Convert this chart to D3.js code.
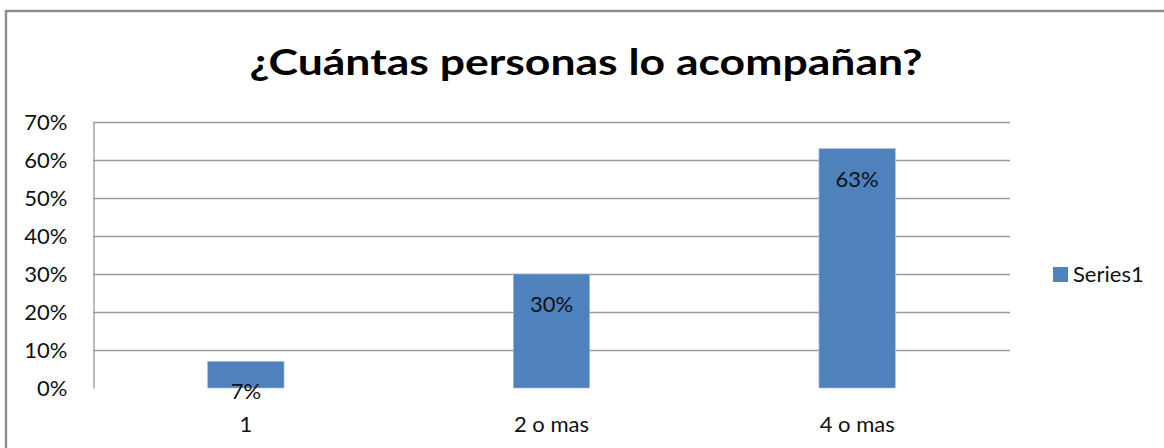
<!DOCTYPE html>
<html>
<head>
<meta charset="utf-8">
<script src="https://cdn.jsdelivr.net/npm/d3@7"></script>
<style>
  html, body { margin: 0; padding: 0; background: #fff; }
  svg { display: block; font-family: Lato, "Open Sans", sans-serif; }
</style>
</head>
<body>
<svg id="chart" width="1164" height="448"></svg>
<script>
// Chart data
const title = "¿Cuántas personas lo acompañan?";
const categories = ["1", "2 o mas", "4 o mas"];
const values = [0.07, 0.30, 0.63];
const seriesName = "Series1";
const yTicks = [0, 0.1, 0.2, 0.3, 0.4, 0.5, 0.6, 0.7];

const svg = d3.select("#chart");
const W = 1164, H = 448;
const plot = { left: 93, top: 122, right: 1010, bottom: 388 };
const barColor = "#4F81BD";
const gridColor = "#9a9a9a";
const labelSize = 22;

// Outer chart frame (runs off the right and bottom edges)
svg.append("rect")
  .attr("x", 6).attr("y", 11)
  .attr("width", W + 20).attr("height", H + 20)
  .attr("fill", "#fff")
  .attr("stroke", "#8c8c8c")
  .attr("stroke-width", 2.4);

// Title
svg.append("text")
  .attr("x", 586).attr("y", 75)
  .attr("text-anchor", "middle")
  .attr("font-size", 36)
  .attr("font-weight", "bold")
  .attr("fill", "#000")
  .attr("textLength", 673)
  .attr("lengthAdjust", "spacingAndGlyphs")
  .text(title);

const x = d3.scaleBand()
  .domain(categories)
  .range([plot.left, plot.right])
  .paddingInner(0.75)
  .paddingOuter(0.375);

const y = d3.scaleLinear()
  .domain([0, 0.7])
  .range([plot.bottom, plot.top]);

// Horizontal gridlines (no line at zero)
svg.append("g")
  .selectAll("line")
  .data(yTicks.filter(d => d > 0))
  .join("line")
  .attr("x1", plot.left).attr("x2", plot.right)
  .attr("y1", d => Math.round(y(d)) + 0.5)
  .attr("y2", d => Math.round(y(d)) + 0.5)
  .attr("stroke", gridColor)
  .attr("stroke-width", 1.3);

// Y axis with percentage labels
const yAxis = d3.axisLeft(y)
  .tickValues(yTicks)
  .tickFormat(d3.format(".0%"))
  .tickSize(0)
  .tickPadding(26);

const gy = svg.append("g")
  .attr("transform", `translate(${plot.left + 0.5},0)`)
  .call(yAxis);
gy.select(".domain").attr("stroke", gridColor).attr("stroke-width", 1.3);
gy.selectAll("text")
  .attr("font-family", "Lato, 'Open Sans', sans-serif")
  .attr("font-size", labelSize)
  .attr("fill", "#111")
  .attr("dy", "0.36em");

// Bars
svg.append("g")
  .selectAll("rect")
  .data(values)
  .join("rect")
  .attr("x", (d, i) => x(categories[i]))
  .attr("width", x.bandwidth())
  .attr("y", d => y(d))
  .attr("height", d => y(0) - y(d))
  .attr("fill", barColor)
  .attr("stroke", "#a7c0de")
  .attr("stroke-width", 0.6);

// Value labels inside bar ends
svg.append("g")
  .selectAll("text")
  .data(values)
  .join("text")
  .attr("x", (d, i) => x(categories[i]) + x.bandwidth() / 2)
  .attr("y", d => y(d) + 38)
  .attr("text-anchor", "middle")
  .attr("font-size", labelSize)
  .attr("fill", "#111")
  .text(d => d3.format(".0%")(d));

// Category labels
const xAxis = d3.axisBottom(x).tickSize(0).tickPadding(0);
const gx = svg.append("g")
  .attr("transform", `translate(0,${plot.bottom})`)
  .call(xAxis);
gx.select(".domain").remove();
gx.selectAll("text")
  .attr("font-family", "Lato, 'Open Sans', sans-serif")
  .attr("font-size", labelSize)
  .attr("fill", "#111")
  .attr("dy", null)
  .attr("y", 44);

// Legend
const legend = svg.append("g").attr("transform", "translate(1053,267)");
legend.append("rect")
  .attr("width", 15).attr("height", 15)
  .attr("fill", barColor);
legend.append("text")
  .attr("x", 20).attr("y", 15)
  .attr("font-size", labelSize)
  .attr("fill", "#111")
  .text(seriesName);
</script>
</body>
</html>
